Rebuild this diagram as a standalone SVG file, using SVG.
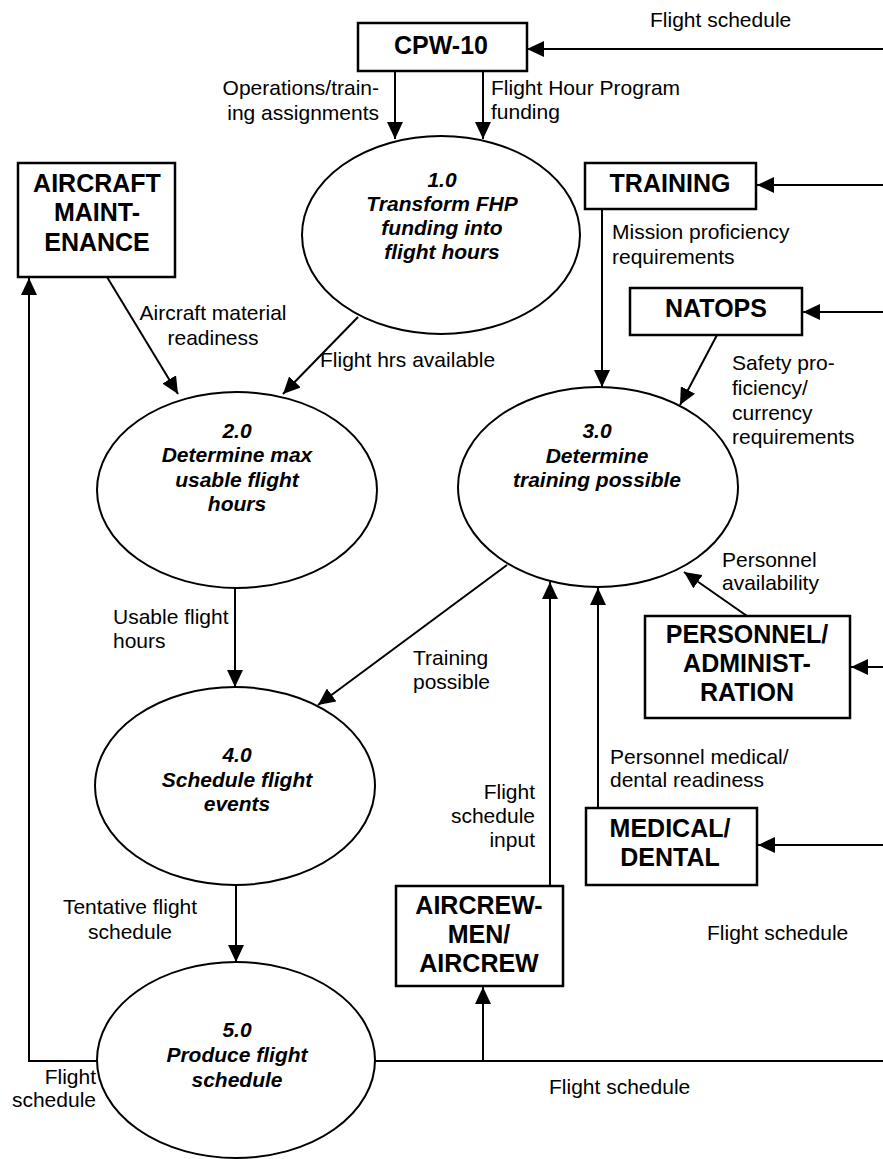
<svg xmlns="http://www.w3.org/2000/svg" width="883" height="1159" viewBox="0 0 883 1159">
<defs>
<marker id="ah" viewBox="0 0 17 16" refX="17" refY="8" markerWidth="17" markerHeight="16" markerUnits="userSpaceOnUse" orient="auto"><path d="M0,0 L17,8 L0,16 z" fill="#000"/></marker>
<style>
.box{fill:#fff;stroke:#000;stroke-width:2.5}
.proc{fill:#fff;stroke:#000;stroke-width:2}
.bt{font-family:"Liberation Sans",Arial,sans-serif;font-size:25px;font-weight:bold;text-anchor:middle;fill:#000}
.pt{font-family:"Liberation Sans",Arial,sans-serif;font-size:21px;font-weight:bold;font-style:italic;text-anchor:middle;fill:#000}
.lb{font-family:"Liberation Sans",Arial,sans-serif;font-size:21px;fill:#000}
.ln{fill:none;stroke:#000;stroke-width:2}
.ar{fill:none;stroke:#000;stroke-width:2;marker-end:url(#ah)}
</style>
</defs>
<rect width="883" height="1159" fill="#fff"/>
<g id="connectors">
<line class="ar" x1="883" y1="49" x2="527" y2="49"/>
<line class="ar" x1="395" y1="71" x2="395" y2="139"/>
<line class="ar" x1="483" y1="71" x2="483" y2="139"/>
<line class="ar" x1="883" y1="185" x2="757" y2="185"/>
<line class="ar" x1="883" y1="312" x2="803" y2="312"/>
<line class="ar" x1="883" y1="667" x2="851" y2="667"/>
<line class="ar" x1="883" y1="845" x2="758" y2="845"/>
<line class="ar" x1="107" y1="277" x2="178" y2="394"/>
<line class="ar" x1="358" y1="317" x2="283" y2="394"/>
<line class="ar" x1="602" y1="209" x2="602" y2="387"/>
<line class="ar" x1="717" y1="335" x2="680" y2="405"/>
<line class="ar" x1="747" y1="616" x2="684" y2="572"/>
<line class="ar" x1="507" y1="565" x2="318" y2="705"/>
<line class="ar" x1="235" y1="588" x2="235" y2="687"/>
<line class="ar" x1="550" y1="886" x2="550" y2="582"/>
<line class="ar" x1="598" y1="808" x2="598" y2="588"/>
<line class="ar" x1="236" y1="885" x2="236" y2="962"/>
<polyline class="ar" points="97,1061 29,1061 29,278"/>
<line class="ln" x1="375" y1="1061" x2="883" y2="1061"/>
<line class="ar" x1="483" y1="1061" x2="483" y2="987"/>
</g>
<g id="cpw10"><rect class="box" x="358" y="23" width="169" height="48"/><text class="bt" x="441" y="54">CPW-10</text></g>
<g id="aircraft-maintenance"><rect class="box" x="18" y="163" width="157" height="114"/><text class="bt" x="97" y="192">AIRCRAFT</text><text class="bt" x="97" y="221">MAINT-</text><text class="bt" x="97" y="251">ENANCE</text></g>
<g id="training"><rect class="box" x="585" y="163" width="171" height="46"/><text class="bt" x="670" y="192">TRAINING</text></g>
<g id="natops"><rect class="box" x="630" y="288" width="172" height="47"/><text class="bt" x="716" y="317">NATOPS</text></g>
<g id="personnel"><rect class="box" x="645" y="616" width="205" height="102"/><text class="bt" x="747" y="643">PERSONNEL/</text><text class="bt" x="747" y="672">ADMINIST-</text><text class="bt" x="747" y="701">RATION</text></g>
<g id="medical"><rect class="box" x="586" y="808" width="171" height="77"/><text class="bt" x="670" y="837">MEDICAL/</text><text class="bt" x="670" y="866">DENTAL</text></g>
<g id="aircrew"><rect class="box" x="396" y="886" width="167" height="100"/><text class="bt" x="479" y="914">AIRCREW-</text><text class="bt" x="479" y="943">MEN/</text><text class="bt" x="479" y="972">AIRCREW</text></g>
<g id="p1"><ellipse class="proc" cx="441" cy="235" rx="139" ry="99"/><text class="pt" x="442" y="187">1.0</text><text class="pt" x="442" y="211">Transform FHP</text><text class="pt" x="442" y="235">funding into</text><text class="pt" x="442" y="259">flight hours</text></g>
<g id="p2"><ellipse class="proc" cx="237" cy="490" rx="140" ry="98"/><text class="pt" x="237" y="438">2.0</text><text class="pt" x="237" y="462">Determine max</text><text class="pt" x="237" y="487">usable flight</text><text class="pt" x="237" y="511">hours</text></g>
<g id="p3"><ellipse class="proc" cx="598" cy="487" rx="140" ry="100"/><text class="pt" x="597" y="438">3.0</text><text class="pt" x="597" y="463">Determine</text><text class="pt" x="597" y="487">training possible</text></g>
<g id="p4"><ellipse class="proc" cx="235" cy="786" rx="140" ry="99"/><text class="pt" x="237" y="762">4.0</text><text class="pt" x="237" y="787">Schedule flight</text><text class="pt" x="237" y="811">events</text></g>
<g id="p5"><ellipse class="proc" cx="236" cy="1060" rx="139" ry="98"/><text class="pt" x="237" y="1037">5.0</text><text class="pt" x="237" y="1062">Produce flight</text><text class="pt" x="237" y="1087">schedule</text></g>
<g id="labels">
<text class="lb" x="650" y="27">Flight schedule</text>
<text class="lb" x="379" y="95" text-anchor="end">Operations/train-</text>
<text class="lb" x="379" y="120" text-anchor="end">ing assignments</text>
<text class="lb" x="491" y="95">Flight Hour Program</text>
<text class="lb" x="491" y="119">funding</text>
<text class="lb" x="213" y="320" text-anchor="middle">Aircraft material</text>
<text class="lb" x="213" y="345" text-anchor="middle">readiness</text>
<text class="lb" x="320" y="367">Flight hrs available</text>
<text class="lb" x="612" y="239">Mission proficiency</text>
<text class="lb" x="612" y="264">requirements</text>
<text class="lb" x="732" y="370">Safety pro-</text>
<text class="lb" x="732" y="395">ficiency/</text>
<text class="lb" x="732" y="420">currency</text>
<text class="lb" x="732" y="444">requirements</text>
<text class="lb" x="722" y="567">Personnel</text>
<text class="lb" x="722" y="590">availability</text>
<text class="lb" x="113" y="624">Usable flight</text>
<text class="lb" x="113" y="648">hours</text>
<text class="lb" x="413" y="665">Training</text>
<text class="lb" x="413" y="689">possible</text>
<text class="lb" x="610" y="764">Personnel medical/</text>
<text class="lb" x="610" y="787">dental readiness</text>
<text class="lb" x="535" y="799" text-anchor="end">Flight</text>
<text class="lb" x="535" y="823" text-anchor="end">schedule</text>
<text class="lb" x="535" y="847" text-anchor="end">input</text>
<text class="lb" x="130" y="914" text-anchor="middle">Tentative flight</text>
<text class="lb" x="130" y="939" text-anchor="middle">schedule</text>
<text class="lb" x="707" y="940">Flight schedule</text>
<text class="lb" x="549" y="1094">Flight schedule</text>
<text class="lb" x="96" y="1084" text-anchor="end">Flight</text>
<text class="lb" x="96" y="1107" text-anchor="end">schedule</text>
</g>
</svg>
